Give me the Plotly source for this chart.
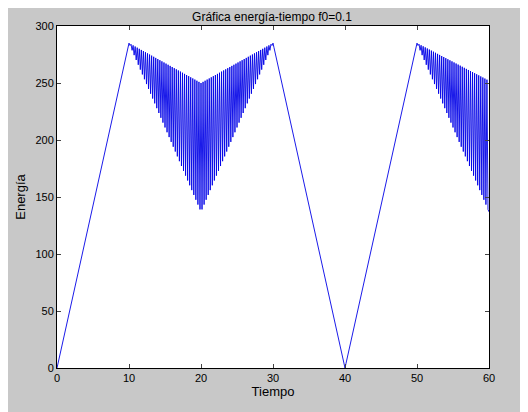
import numpy as np
import plotly.graph_objects as go

# breakpoints
env_t = [0, 10, 20, 30, 40, 50, 60]
upper = [0, 285, 250, 285, 0, 285, 252]
lower = [0, 285, 137, 285, 0, 285, 137]
osc_segments = [(10, 30), (50, 60)]
n_per_unit = 7

t = np.arange(0, 60 * n_per_unit + 1) / n_per_unit
up = np.interp(t, env_t, upper)
lo = np.interp(t, env_t, lower)
idx = np.arange(len(t))
in_osc = np.zeros(len(t), bool)
for a, b in osc_segments:
    in_osc |= (t > a + 1e-9) & (t < b - 1e-9)
y = np.where(in_osc & (idx % 2 == 1), lo, up)
y[-1] = 137

fig = go.Figure(go.Scatter(x=t, y=y, mode="lines", line=dict(color="#0000e6", width=0.9)))
ax = dict(showgrid=False, zeroline=False, ticks="inside", ticklen=4, mirror="allticks",
          showline=True, linecolor="black", linewidth=1, tickfont=dict(size=11, color="black"))
fig.update_layout(
    width=528, height=412, paper_bgcolor="#c8c8c8", plot_bgcolor="white",
    margin=dict(l=47, r=47, t=12, b=52),
    font=dict(family="Liberation Sans, Arial", size=11, color="black"),
    title=dict(text="Gráfica energía-tiempo f0=0.1", x=0.5, xanchor="center", y=0.99, yanchor="top",
               font=dict(size=12)),
    xaxis=dict(range=[0, 60], tickvals=list(range(0, 61, 10)), title=dict(text="Tiempo", standoff=2), **ax),
    yaxis=dict(range=[0, 300], tickvals=list(range(0, 301, 50)), title=dict(text="Energía", standoff=6), **ax),
    showlegend=False,
)
fig.write_html("out.html")
